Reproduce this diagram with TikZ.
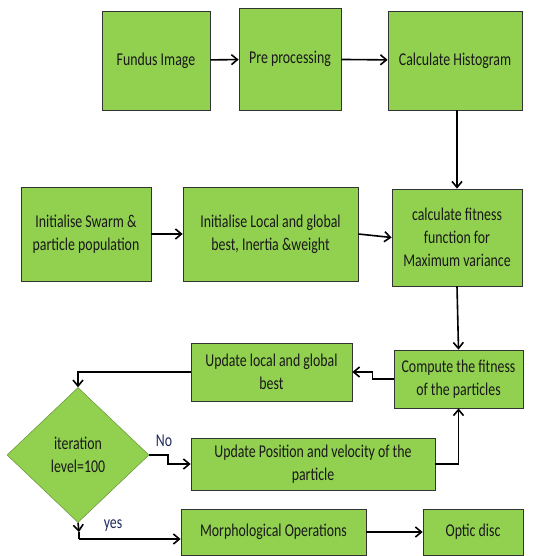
\documentclass[tikz,border=0pt]{standalone}
\usepackage{fontspec}
\setmainfont{Carlito}[FakeStretch=0.77]
\usepackage{tikz}
\usetikzlibrary{shapes.geometric,arrows.meta}
\definecolor{boxgreen}{HTML}{92D050}
\definecolor{labelblue}{HTML}{1F2A5C}

\begin{document}
\begin{tikzpicture}[x=1pt,y=-1pt,
		box/.style={draw=black!80, line width=0.7pt, fill=boxgreen, align=center,
			inner sep=2pt, font=\fontsize{18}{23}\selectfont, text=black!90},
		decision/.style={diamond, draw=boxgreen!70!black, line width=0.5pt, fill=boxgreen,
			align=center, inner sep=0pt, font=\fontsize{18}{23}\selectfont, text=black!90},
		flow/.style={line width=1.6pt, -{Straight Barb[length=6pt,width=10pt]}},
		plain/.style={line width=1.6pt},
		lbl/.style={font=\fontsize{18}{20}\selectfont, text=labelblue}]
	\useasboundingbox (0,0) rectangle (544,556);
	
	% top row
	\node[box, minimum width=108pt, minimum height=99pt] (fundus) at (156,60.5) {Fundus Image};
	\node[box, minimum width=102pt, minimum height=102pt] (prep) at (290,59) {Pre processing};
	\node[box, minimum width=134pt, minimum height=99pt] (hist) at (455,60.5) {Calculate Histogram};
	
	% second row
	\node[box, minimum width=130pt, minimum height=94pt] (swarm) at (86,234) {Initialise Swarm \&\\particle population};
	\node[box, minimum width=175pt, minimum height=94pt] (initbest) at (270.5,234) {Initialise Local and global\\best, Inertia \&weight};
	\node[box, minimum width=130pt, minimum height=97pt] (fitfun) at (457,237.5) {calculate fitness\\function for\\Maximum variance};
	
	% loop
	\node[box, minimum width=129pt, minimum height=58pt] (compute) at (458.5,379) {Compute the fitness\\of the particles};
	\node[box, minimum width=161pt, minimum height=58pt] (updbest) at (271.5,372) {Update local and global\\best};
	\node[decision, minimum width=142pt, minimum height=135pt] (iter) at (78,455) {iteration\\level=100};
	\node[box, minimum width=244pt, minimum height=52pt] (updpos) at (313,464) {Update Position and velocity of the\\particle};
	
	% bottom row
	\node[box, minimum width=185pt, minimum height=46pt] (morph) at (273.5,532) {Morphological Operations};
	\node[box, minimum width=100pt, minimum height=46pt] (optic) at (473,532) {Optic disc};
	
	\node[lbl] (nolbl) at (164,441) {No};
	\node[lbl] (yeslbl) at (113,526) {yes};
	
	\coordinate (yesarr) at (79,532);
	\coordinate (yescorner) at (79,539);
	
	% connectors
	\draw[flow] (fundus) -- (prep);
	\draw[flow] (prep) -- (hist);
	\draw[flow] (hist.south -| fitfun.north) -- (fitfun.north);
	\draw[flow] (swarm) -- (swarm -| initbest.west);
	\draw[flow] (initbest.east) -- (fitfun.west);
	\draw[flow] (fitfun.south) -- (compute.north);
	\draw[flow] (compute.west) -- ++(-21,0) |- (updbest.east);
	\draw[flow] (updbest.west) -| (iter.north);
	\draw[flow] (iter.east) -- ++(19,0) |- (updpos.west);
	\draw[flow] (updpos.east) -| (compute.south);
	\draw[flow] (iter.south) -- (yesarr);
	\draw[plain] (yesarr) -- (yescorner);
	\draw[flow] (yescorner) -- (yescorner -| morph.west);
	\draw[flow] (morph) -- (optic);
	
\end{tikzpicture}
\end{document}
